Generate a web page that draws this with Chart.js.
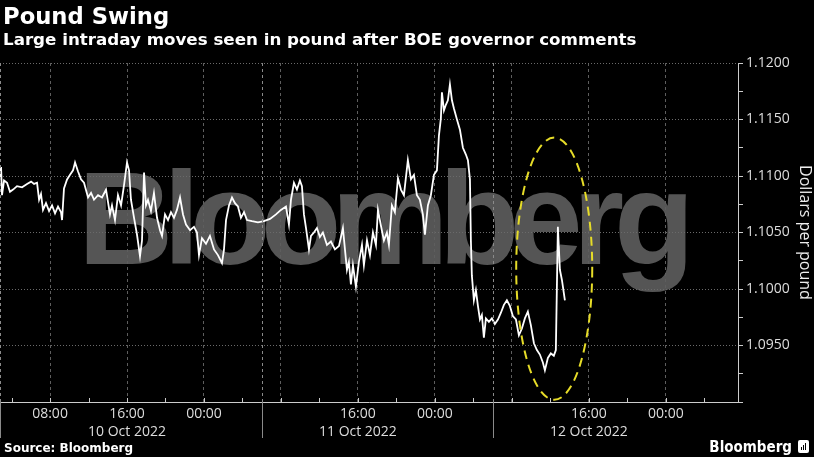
<!DOCTYPE html>
<html>
<head>
<meta charset="utf-8">
<script src="https://cdn.jsdelivr.net/npm/chart.js@4.4.0/dist/chart.umd.min.js"></script>
<style>
  body { margin: 0; background: #000; width: 814px; height: 457px; overflow: hidden; position: relative; }
  canvas { position: absolute; left: 0; top: 0; }
  .txt { position: absolute; color: #fff; font-family: "DejaVu Sans", sans-serif; font-weight: bold; white-space: nowrap; z-index: 2; }
  #title { left: 3px; top: 5px; font-size: 22.7px; line-height: 23px; }
  #subtitle { left: 3px; top: 31px; font-size: 16.7px; line-height: 17px; }
  #source { left: 4px; top: 442px; font-size: 12px; line-height: 12px; }
  #brand { right: 22px; top: 440px; font-family: "DejaVu Sans Condensed", "DejaVu Sans", sans-serif; font-size: 15px; line-height: 15px; }
  #icon { position: absolute; left: 798px; top: 440px; width: 11px; height: 13px; background: #fff; border-radius: 2px; z-index: 2; }
  #icon i { position: absolute; bottom: 3px; width: 1px; background: #000; }
</style>
</head>
<body>
<div class="txt" id="title">Pound Swing</div>
<div class="txt" id="subtitle">Large intraday moves seen in pound after BOE governor comments</div>
<canvas id="chart" width="814" height="457"></canvas>
<div class="txt" id="source">Source: Bloomberg</div>
<div class="txt" id="brand">Bloomberg</div>
<div id="icon"><i style="left:3px;height:3px"></i><i style="left:5px;height:5px"></i><i style="left:7px;height:7px"></i></div>
<script>
// hours since 10 Oct 2022 00:00, and GBP/USD
const hours = [
  2.81, 2.91, 3.01, 3.22, 3.53, 3.84, 4.16, 4.57, 5.09, 5.61,
  6.03, 6.34, 6.65, 6.86, 7.06, 7.27, 7.58, 7.90, 8.21, 8.52,
  8.83, 9.14, 9.25, 9.45, 9.77, 10.08, 10.39, 10.60, 10.91, 11.22,
  11.53, 11.95, 12.26, 12.57, 12.99, 13.40, 13.82, 14.23, 14.44, 14.75,
  15.06, 15.38, 15.69, 16.00, 16.21, 16.41, 16.73, 17.04, 17.35, 17.56,
  17.77, 17.97, 18.18, 18.49, 18.80, 19.12, 19.43, 19.64, 19.95, 20.26,
  20.57, 20.88, 21.19, 21.51, 21.82, 22.13, 22.55, 22.96, 23.27, 23.48,
  23.79, 24.21, 24.62, 25.04, 25.45, 25.87, 26.08, 26.29, 26.60, 26.91,
  27.22, 27.53, 27.84, 28.16, 28.47, 28.99, 29.61, 30.23, 30.86, 31.48,
  32.00, 32.52, 32.83, 33.04, 33.35, 33.66, 33.97, 34.18, 34.39, 34.60,
  34.91, 35.12, 35.43, 35.74, 36.05, 36.36, 36.78, 37.19, 37.61, 38.03,
  38.44, 38.65, 38.86, 39.06, 39.27, 39.48, 39.79, 40.10, 40.42, 40.62,
  40.94, 41.25, 41.56, 41.87, 42.08, 42.39, 42.70, 43.01, 43.22, 43.53,
  43.84, 44.16, 44.47, 44.78, 45.19, 45.51, 45.82, 46.13, 46.44, 46.75,
  46.96, 47.27, 47.58, 47.90, 48.21, 48.42, 48.62, 48.73, 48.94, 49.14,
  49.35, 49.56, 49.77, 49.97, 50.29, 50.60, 50.91, 51.22, 51.43, 51.64,
  51.74, 51.84, 52.05, 52.26, 52.47, 52.68, 52.88, 53.09, 53.30, 53.61,
  53.92, 54.23, 54.55, 54.86, 55.17, 55.48, 55.79, 56.10, 56.42, 56.73,
  57.04, 57.35, 57.66, 57.97, 58.29, 58.60, 58.91, 59.22, 59.43, 59.74,
  60.05, 60.36, 60.57, 60.78, 60.99, 61.20, 61.51
];
const prices = [
  1.1097, 1.1108, 1.1083, 1.1096, 1.1094, 1.1086, 1.1088, 1.1091, 1.1090, 1.1093,
  1.1095, 1.1093, 1.1094, 1.1079, 1.1084, 1.1070, 1.1076, 1.1069, 1.1074, 1.1067,
  1.1073, 1.1068, 1.1061, 1.1089, 1.1097, 1.1101, 1.1105, 1.1112, 1.1104, 1.1097,
  1.1094, 1.1081, 1.1085, 1.1079, 1.1083, 1.1081, 1.1088, 1.1066, 1.1074, 1.1061,
  1.1083, 1.1074, 1.1092, 1.1112, 1.1105, 1.1079, 1.1063, 1.1048, 1.1029, 1.1043,
  1.1103, 1.1074, 1.1079, 1.1069, 1.1085, 1.1063, 1.1052, 1.1047, 1.1066, 1.1061,
  1.1068, 1.1063, 1.1070, 1.1081, 1.1066, 1.1057, 1.1052, 1.1055, 1.1050, 1.1030,
  1.1045, 1.1040, 1.1047, 1.1035, 1.1030, 1.1023, 1.1035, 1.1061, 1.1074, 1.1081,
  1.1076, 1.1073, 1.1063, 1.1068, 1.1061, 1.1060, 1.1059, 1.1060, 1.1062, 1.1066,
  1.1070, 1.1073, 1.1057, 1.1079, 1.1094, 1.1088, 1.1096, 1.1091, 1.1066, 1.1054,
  1.1035, 1.1047, 1.1050, 1.1054, 1.1046, 1.1050, 1.1039, 1.1042, 1.1035, 1.1038,
  1.1054, 1.1035, 1.1017, 1.1024, 1.1004, 1.1021, 1.1002, 1.1024, 1.1039, 1.1021,
  1.1043, 1.1030, 1.1050, 1.1039, 1.1070, 1.1056, 1.1043, 1.1050, 1.1039, 1.1074,
  1.1068, 1.1098, 1.1088, 1.1083, 1.1114, 1.1097, 1.1101, 1.1083, 1.1079, 1.1066,
  1.1048, 1.1074, 1.1083, 1.1101, 1.1105, 1.1136, 1.1151, 1.1174, 1.1158, 1.1163,
  1.1167, 1.1181, 1.1167, 1.1160, 1.1150, 1.1141, 1.1125, 1.1119, 1.1114, 1.1097,
  1.1043, 1.1012, 1.0990, 1.0999, 1.0985, 1.0973, 1.0977, 1.0957, 1.0974, 1.0971,
  1.0974, 1.0969, 1.0973, 1.0979, 1.0986, 1.0990, 1.0985, 1.0976, 1.0973, 1.0959,
  1.0965, 1.0974, 1.0980, 1.0968, 1.0952, 1.0946, 1.0942, 1.0935, 1.0928, 1.0939,
  1.0943, 1.0941, 1.0946, 1.1055, 1.1017, 1.1008, 1.0990
];

const tickHours = [8, 16, 24, 32, 40, 48, 56, 64, 72];
const tickTimes = ['08:00', '16:00', '00:00', '', '16:00', '00:00', '', '16:00', '00:00'];
const dayLabelHours = [16, 40, 64];
const dayLabels = ['10 Oct 2022', '11 Oct 2022', '12 Oct 2022'];
const dayBreakHours = [30, 54];
const minorTickHours = [4, 8, 12, 16, 20, 24, 28, 32, 36, 40, 44, 48, 52, 56, 60, 64, 68, 72, 76];
const priceTicks = [1.09, 1.0925, 1.095, 1.0975, 1.1, 1.1025, 1.105, 1.1075, 1.11, 1.1125, 1.115, 1.1175, 1.12];

// dashed ring round the move after the comments: centre (hour, price), half-size (hours, price)
const highlightCenter = [60.4, 1.1018];
const highlightRadius = [3.95, 0.0116];

const isMajor = v => v > 1.0901 && Math.round(v * 10000) % 50 === 0;

const decor = {
  id: 'decor',
  beforeDraw(chart) {
    const { ctx } = chart;
    ctx.save();
    ctx.fillStyle = '#555555';
    ctx.font = 'bold 132px "Liberation Sans"';
    ctx.letterSpacing = '-10px';
    ctx.fillText('Bloomberg', 78, 264);
    ctx.restore();
  },
  afterDatasetsDraw(chart) {
    const { ctx, chartArea: a } = chart;
    const x = chart.scales.x, y = chart.scales.y;
    ctx.save();

    // day breaks
    const breaks = [a.left + 0.5].concat(dayBreakHours.map(h => Math.round(x.getPixelForValue(h)) + 0.5));
    ctx.strokeStyle = '#8a8a8a';
    ctx.lineWidth = 1;
    breaks.forEach(px => {
      ctx.setLineDash([3, 3]);
      ctx.beginPath(); ctx.moveTo(px, a.top); ctx.lineTo(px, a.bottom); ctx.stroke();
      ctx.setLineDash([]);
      ctx.beginPath(); ctx.moveTo(px, a.bottom); ctx.lineTo(px, a.bottom + 36); ctx.stroke();
    });

    // small ticks inside the x axis
    ctx.strokeStyle = '#cccccc';
    minorTickHours.forEach(h => {
      const px = Math.round(x.getPixelForValue(h)) + 0.5;
      ctx.beginPath(); ctx.moveTo(px, a.bottom); ctx.lineTo(px, a.bottom - 4); ctx.stroke();
    });

    // highlight ring
    const cx = x.getPixelForValue(highlightCenter[0]);
    const cy = y.getPixelForValue(highlightCenter[1]);
    const rx = x.getPixelForValue(highlightCenter[0] + highlightRadius[0]) - cx;
    const ry = cy - y.getPixelForValue(highlightCenter[1] + highlightRadius[1]);
    ctx.strokeStyle = '#e6dc28';
    ctx.lineWidth = 2;
    ctx.setLineDash([9, 6]);
    ctx.beginPath();
    ctx.ellipse(cx, cy, rx, ry, 0, 0, Math.PI * 2);
    ctx.stroke();
    ctx.restore();
  }
};

new Chart(document.getElementById('chart'), {
  type: 'line',
  data: {
    datasets: [{
      data: hours.map((h, i) => ({ x: h, y: prices[i] })),
      borderColor: '#ffffff',
      borderWidth: 1.8,
      pointRadius: 0,
      tension: 0
    }]
  },
  options: {
    responsive: false,
    animation: false,
    devicePixelRatio: 1,
    layout: { padding: { top: 63, bottom: 15, left: 0, right: 0 } },
    plugins: { legend: { display: false }, tooltip: { enabled: false } },
    scales: {
      x: {
        type: 'linear',
        min: 2.8,
        max: 79.5,
        afterBuildTicks: s => { s.ticks = tickHours.map(v => ({ value: v })); },
        afterFit: s => { s.height = 40; },
        grid: { color: '#5e5e5e', drawTicks: false },
        border: { color: '#cccccc', dash: [3, 3] },
        ticks: {
          color: '#dddddd',
          font: { family: '"Open Sans"', size: 14, lineHeight: 1.3 },
          padding: 3,
          maxRotation: 0,
          autoSkip: false,
          callback: (v, i) => {
            const d = dayLabelHours.indexOf(v);
            return d >= 0 ? [tickTimes[i], dayLabels[d]] : tickTimes[i];
          }
        }
      },
      y: {
        position: 'right',
        min: 1.09,
        max: 1.12,
        afterBuildTicks: s => { s.ticks = priceTicks.map(v => ({ value: v })); },
        afterFit: s => { s.width = 76; },
        grid: {
          color: c => isMajor(c.tick.value) ? '#6a6a6a' : 'transparent',
          tickColor: '#cccccc',
          tickLength: 5
        },
        border: { color: '#cccccc', dash: [1, 2] },
        ticks: {
          color: '#dddddd',
          font: { family: '"Open Sans"', size: 14 },
          padding: 3,
          autoSkip: false,
          callback: v => isMajor(v) ? v.toFixed(4) : ''
        },
        title: {
          display: true,
          text: 'Dollars per pound',
          color: '#eeeeee',
          font: { family: '"Open Sans"', size: 16 },
          padding: { top: 0, bottom: 6 }
        }
      }
    }
  },
  plugins: [decor]
});
</script>
</body>
</html>
